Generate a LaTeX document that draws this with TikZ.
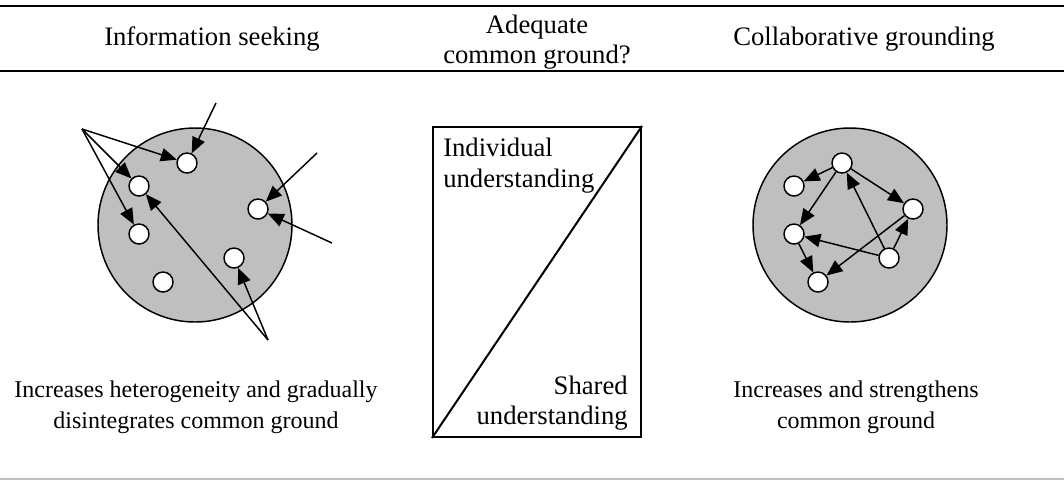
\documentclass[tikz,border=0pt]{standalone}
\usepackage{fontspec}
\setmainfont{Liberation Serif}
\usetikzlibrary{arrows.meta}
\tikzset{
	dot/.style={circle,draw,fill=white,line width=1.1pt,inner sep=0pt,minimum size=15pt},
	pool/.style={circle,draw,fill=black!25,line width=1.1pt,inner sep=0pt,minimum size=145.5pt},
	link/.style={-{Triangle[length=12pt,width=10pt]},line width=1.1pt},
	txt/.style={font=\fontsize{20}{23}\selectfont,inner sep=0pt,align=center},
	caption/.style={txt,font=\fontsize{18}{23}\selectfont},
	rule/.style={line width=1.6pt},
}

\begin{document}
\begin{tikzpicture}[x=0.75pt,y=-0.75pt]
	\useasboundingbox (0,0) rectangle (1064,480);
	% table rules
	\draw[rule] (0,6) -- (1064,6);
	\draw[rule] (0,71) -- (1064,71);
	\draw[rule,black!25] (0,479) -- (1064,479);
	% headings
	\node[txt,anchor=base] (hdSeek) at (212,45) {Information seeking};
	\node[txt] (hdAdequate) at (537,42) {Adequate\\common ground?};
	\node[txt,anchor=base] (hdGround) at (864,45) {Collaborative grounding};
	
	% information seeking
	\node[pool] (poolL) at (195,225) {};
	\node[dot] at (187,163) (L1) {};
	\node[dot] at (139,186) (L2) {};
	\node[dot] at (258,209) (L3) {};
	\node[dot] at (139,234) (L4) {};
	\node[dot] at (234,258) (L5) {};
	\node[dot] at (163,282) (L6) {};
	\coordinate (srcA) at (82,129);
	\coordinate (srcB) at (216,103);
	\coordinate (srcC) at (317,153);
	\coordinate (srcD) at (332,243);
	\coordinate (srcE) at (268,340);
	\draw[link] (srcA) -- (L1);
	\draw[link] (srcA) -- (L2);
	\draw[link] (srcA) -- (L4);
	\draw[link] (srcB) -- (L1);
	\draw[link] (srcC) -- (L3);
	\draw[link] (srcD) -- (L3);
	\draw[link] (srcE) -- (L5);
	\draw[link] (srcE) -- (L2);
	\node[caption] (capSeek) at (196,407) {Increases heterogeneity and gradually\\disintegrates common ground};
	
	% adequate common ground
	\node[draw,line width=1.5pt,inner sep=0pt,minimum width=156pt,minimum height=232.5pt] (split) at (537,282) {};
	\draw[line width=1.5pt] (split.south west) -- (split.north east);
	\node[txt,align=left,anchor=north west] (indiv) at (443,138) {Individual\\understanding};
	\node[txt,align=right,anchor=south east] (shared) at (628,431) {Shared\\understanding};
	
	% collaborative grounding
	\node[pool] (poolR) at (850,225) {};
	\node[dot] at (842,163) (R1) {};
	\node[dot] at (794,186) (R2) {};
	\node[dot] at (913,209) (R3) {};
	\node[dot] at (794,234) (R4) {};
	\node[dot] at (889,258) (R5) {};
	\node[dot] at (818,282) (R6) {};
	\draw[link] (R1) -- (R2);
	\draw[link] (R1) -- (R4);
	\draw[link] (R1) -- (R3);
	\draw[link] (R5) -- (R1);
	\draw[link] (R5) -- (R4);
	\draw[link] (R5) -- (R3);
	\draw[link] (R3) -- (R6);
	\draw[link] (R4) -- (R6);
	\node[caption] (capGround) at (856,407) {Increases and strengthens\\common ground};
\end{tikzpicture}
\end{document}
